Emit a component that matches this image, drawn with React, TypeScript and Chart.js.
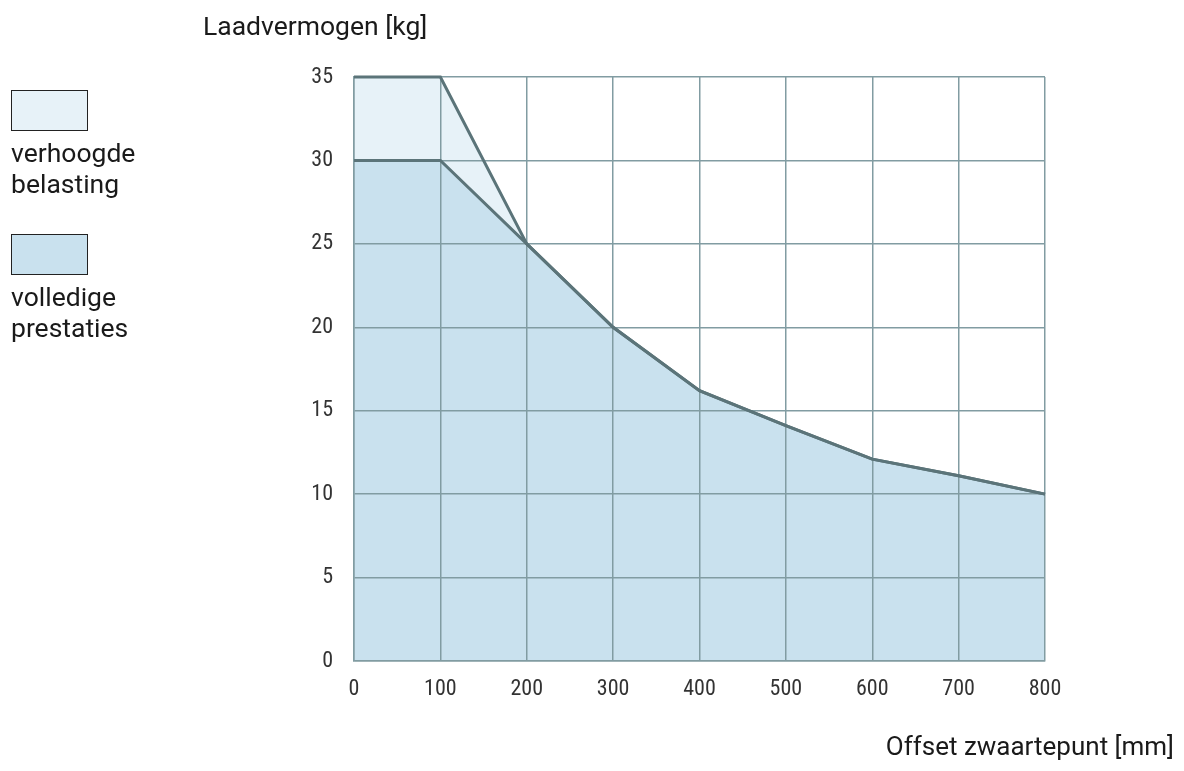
import React, { useEffect, useRef } from "react";
import { Chart, registerables } from "chart.js";

Chart.register(...registerables);

// Data
const offsets = [0, 100, 200, 300, 400, 500, 600, 700, 800];
const fullPerformance = [30, 30, 25, 20, 16.2, 14.1, 12.1, 11.1, 10];
const increasedLoad = [35, 35, 25, 20, 16.2, 14.1, 12.1, 11.1, 10];
const xTickValues = [0, 100, 200, 300, 400, 500, 600, 700, 800];
const yTickValues = [0, 5, 10, 15, 20, 25, 30, 35];

const legendLabels = ["verhoogde belasting", "volledige prestaties"];
const yTitle = "Laadvermogen [kg]";
const xTitle = "Offset zwaartepunt [mm]";

const LINE = "#5b7479";
const GRID = "#819ca2";
const FILL_FULL = "#c9e1ee";
const FILL_INCR = "#e7f2f8";
const FONT = "Roboto, 'Noto Sans', sans-serif";
const TICK_FONT = "'Roboto Condensed', 'Liberation Sans Narrow', Roboto, sans-serif";

export default function App() {
  const ref = useRef<HTMLCanvasElement | null>(null);

  useEffect(() => {
    if (!ref.current) return;
    const chart = new Chart(ref.current, {
      type: "line",
      data: {
        datasets: [
          {
            label: "volledige prestaties",
            data: offsets.map((x, i) => ({ x, y: fullPerformance[i] })),
            borderColor: LINE,
            backgroundColor: FILL_FULL,
            borderWidth: 3,
            pointRadius: 0,
            tension: 0,
            fill: "origin",
            clip: false as any,
          },
          {
            label: "verhoogde belasting",
            data: offsets.map((x, i) => ({ x, y: increasedLoad[i] })),
            borderColor: LINE,
            backgroundColor: FILL_INCR,
            borderWidth: 3,
            pointRadius: 0,
            tension: 0,
            fill: "origin",
            clip: false as any,
          },
        ],
      },
      options: {
        animation: false,
        responsive: false,
        layout: { padding: { top: 77, right: 139, bottom: 0, left: 0 } },
        plugins: {
          legend: { display: false },
          tooltip: { enabled: false },
          filler: { drawTime: "beforeDraw" } as any,
        },
        scales: {
          x: {
            type: "linear",
            min: 0,
            max: 800,
            afterBuildTicks: (s: any) => {
              s.ticks = xTickValues.map((v) => ({ value: v }));
            },
            afterFit: (s: any) => {
              s.height = 110;
            },
            ticks: {
              color: "#333",
              font: { family: TICK_FONT, size: 22 },
              padding: 15,
              maxRotation: 0,
            },
            grid: { color: GRID, lineWidth: 1.5, drawTicks: false },
            border: { color: GRID, width: 1.5 },
          },
          y: {
            type: "linear",
            min: 0,
            max: 35,
            afterBuildTicks: (s: any) => {
              s.ticks = yTickValues.map((v) => ({ value: v }));
            },
            afterFit: (s: any) => {
              s.width = 354;
            },
            ticks: {
              color: "#333",
              font: { family: TICK_FONT, size: 22 },
              padding: 21,
            },
            grid: { color: GRID, lineWidth: 1.5, drawTicks: false },
            border: { color: GRID, width: 1.5 },
          },
        },
      },
    });
    return () => chart.destroy();
  }, []);

  const textStyle: React.CSSProperties = {
    position: "absolute",
    fontFamily: FONT,
    fontSize: 26.5,
    color: "#1a1a1a",
    lineHeight: "31px",
    whiteSpace: "nowrap",
  };
  const boxStyle = (top: number, bg: string): React.CSSProperties => ({
    position: "absolute",
    left: 11,
    top,
    width: 75,
    height: 39,
    background: bg,
    border: "1.5px solid #222",
  });

  return (
    <div
      style={{
        position: "fixed",
        left: 0,
        top: 0,
        width: 1184,
        height: 771,
        background: "#fff",
      }}
    >
      <canvas ref={ref} width={1184} height={771} style={{ position: "absolute", left: 0, top: 0 }} />
      <div style={{ ...textStyle, left: 203, top: 10 }}>{yTitle}</div>
      <div style={{ ...textStyle, right: 10, top: 731, fontSize: 26 }}>{xTitle}</div>
      <div style={boxStyle(90, FILL_INCR)} />
      <div style={{ ...textStyle, left: 11, top: 137 }}>
        {legendLabels[0].split(" ").map((w, i) => (
          <div key={i}>{w}</div>
        ))}
      </div>
      <div style={boxStyle(234, FILL_FULL)} />
      <div style={{ ...textStyle, left: 11, top: 281 }}>
        {legendLabels[1].split(" ").map((w, i) => (
          <div key={i}>{w}</div>
        ))}
      </div>
    </div>
  );
}
